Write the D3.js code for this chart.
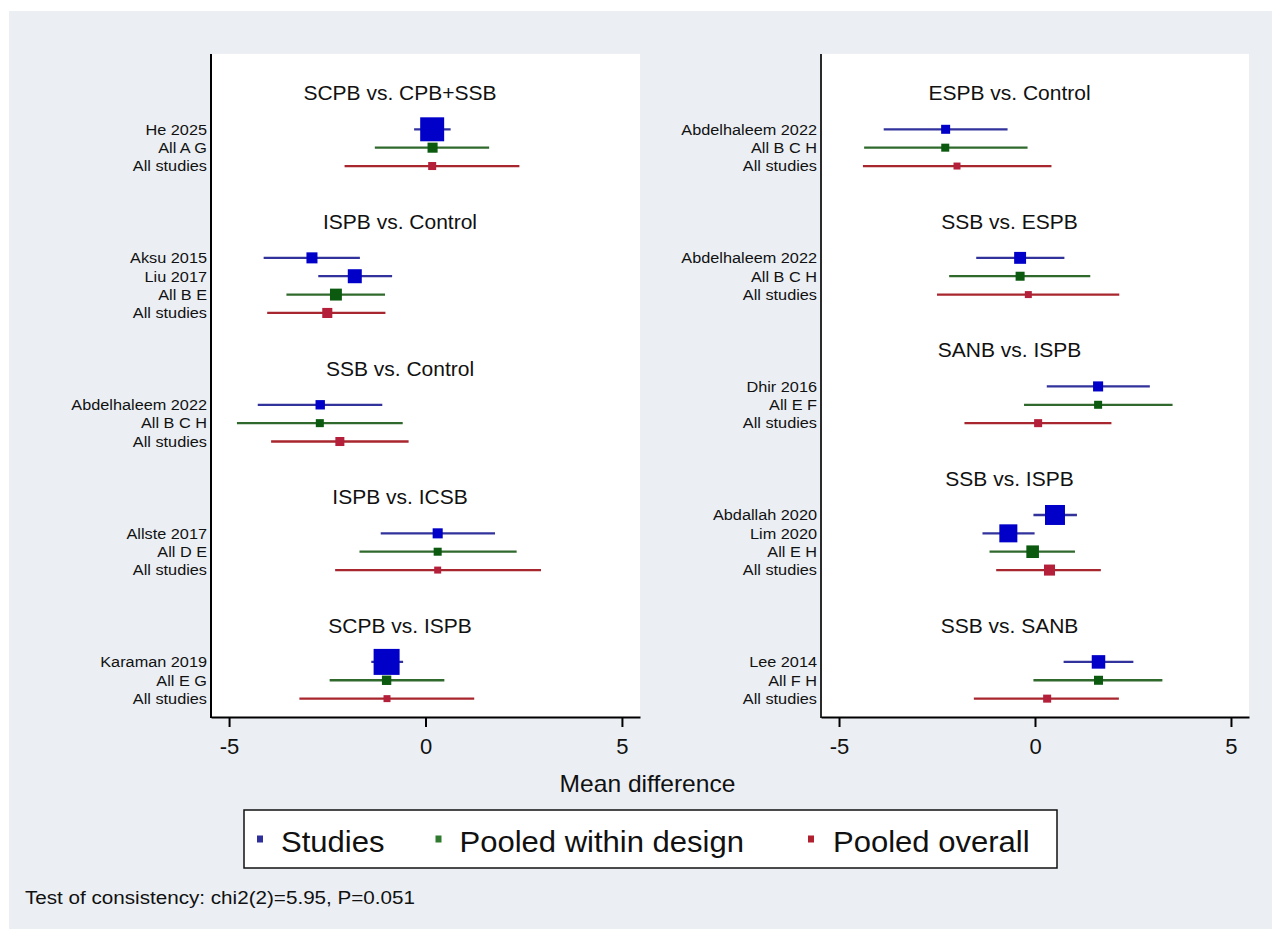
<!DOCTYPE html>
<html>
<head>
<meta charset="utf-8">
<script src="https://cdn.jsdelivr.net/npm/d3@7/dist/d3.min.js"></script>
<style>
  html, body { margin: 0; padding: 0; background: #ffffff; }
  svg { display: block; }
  text { font-family: "Liberation Sans", Arial, Helvetica, sans-serif; fill: #111; }
</style>
</head>
<body>
<svg id="chart" width="1281" height="939"></svg>
<script>
// ---------------- DATA ----------------
const comparisons = [
  "SCPB vs. CPB+SSB", "ISPB vs. Control", "SSB vs. Control", "ISPB vs. ICSB", "SCPB vs. ISPB",
  "ESPB vs. Control", "SSB vs. ESPB", "SANB vs. ISPB", "SSB vs. ISPB", "SSB vs. SANB"
];
const comparisonPanel = [0, 0, 0, 0, 0, 1, 1, 1, 1, 1];

const rowLabels = [
  "He 2025", "All A G", "All studies",
  "Aksu 2015", "Liu 2017", "All B E", "All studies",
  "Abdelhaleem 2022", "All B C H", "All studies",
  "Allste 2017", "All D E", "All studies",
  "Karaman 2019", "All E G", "All studies",
  "Abdelhaleem 2022", "All B C H", "All studies",
  "Abdelhaleem 2022", "All B C H", "All studies",
  "Dhir 2016", "All E F", "All studies",
  "Abdallah 2020", "Lim 2020", "All E H", "All studies",
  "Lee 2014", "All F H", "All studies"
];
const rowComparison = [
  0, 0, 0,
  1, 1, 1, 1,
  2, 2, 2,
  3, 3, 3,
  4, 4, 4,
  5, 5, 5,
  6, 6, 6,
  7, 7, 7,
  8, 8, 8, 8,
  9, 9, 9
];
// 0 = study, 1 = pooled within design, 2 = pooled overall
const rowType = [
  0, 1, 2,
  0, 0, 1, 2,
  0, 1, 2,
  0, 1, 2,
  0, 1, 2,
  0, 1, 2,
  0, 1, 2,
  0, 1, 2,
  0, 0, 1, 2,
  0, 1, 2
];
const estimate = [
  0.17, 0.18, 0.17,
  -2.89, -1.80, -2.28, -2.50,
  -2.68, -2.69, -2.18,
  0.31, 0.31, 0.31,
  -0.99, -0.99, -0.98,
  -2.28, -2.29, -1.99,
  -0.38, -0.38, -0.17,
  1.61, 1.61, 0.08,
  0.51, -0.68, -0.06, 0.37,
  1.62, 1.62, 0.31
];
const lower = [
  -0.29, -1.29, -2.06,
  -4.12, -2.73, -3.54, -4.03,
  -4.27, -4.80, -3.93,
  -1.14, -1.68, -2.30,
  -1.38, -2.44, -3.21,
  -3.86, -4.36, -4.39,
  -1.50, -2.19, -2.50,
  0.30, -0.28, -1.80,
  -0.04, -1.34, -1.16, -0.99,
  0.73, -0.04, -1.56
];
const upper = [
  0.64, 1.62, 2.39,
  -1.67, -0.85, -1.03, -1.02,
  -1.10, -0.58, -0.43,
  1.77, 2.32, 2.94,
  -0.57, 0.48, 1.24,
  -0.70, -0.19, 0.42,
  0.75, 1.41, 2.15,
  2.93, 3.51, 1.95,
  1.07, -0.01, 1.02, 1.68,
  2.51, 3.25, 2.14
];
// relative marker weights (%)
const weight = [
  85, 15, 9.5,
  18, 29, 21, 15,
  13, 9.5, 12,
  15, 9.5, 7.2,
  100, 13, 7.2,
  12, 9.5, 7.2,
  21, 12, 7.2,
  15, 9.5, 9.5,
  59, 48, 23.5, 18,
  27, 12, 9.5
];
const seriesNames = ["Studies", "Pooled within design", "Pooled overall"];
const xTickValues = [-5, 0, 5];
const xTitle = "Mean difference";
const footnote = "Test of consistency: chi2(2)=5.95, P=0.051";

// ---------------- STYLE ----------------
const markerFill = ["#0000c8", "#0b5a10", "#b41f3a"];
const lineColor  = ["#32329c", "#2f6a2c", "#a8262e"];
const legendMark = ["#2e2e9c", "#2f7a2f", "#b0202e"];

const svg = d3.select("#chart");

// background
svg.append("rect").attr("x", 9).attr("y", 11).attr("width", 1263).attr("height", 918)
  .attr("fill", "#ebeff4");

const panelX = [[211, 640], [821, 1249]];
const plotTop = 54, plotBottom = 717;

// compute row slots (layout) per panel: 4 blank rows between comparison groups
const rowSlot = new Array(rowLabels.length);
const titleSlot = new Array(comparisons.length);
[0, 1].forEach(p => {
  let slot = 0, first = true;
  comparisons.forEach((c, ci) => {
    if (comparisonPanel[ci] !== p) return;
    if (!first) slot += 4;
    first = false;
    titleSlot[ci] = slot;
    rowLabels.forEach((l, ri) => {
      if (rowComparison[ri] === ci) { rowSlot[ri] = slot; slot += 1; }
    });
  });
});

const y = d3.scaleLinear().domain([-4.1, 32]).range([plotTop, plotBottom]);
const size = d3.scaleSqrt().domain([0, 100]).range([0, 26]);

function txt(g, x, yy, s, opts) {
  const sx = opts.sx || 1;
  return g.append("text")
    .attr("transform", `translate(${x},${yy}) scale(${sx},1)`)
    .attr("text-anchor", opts.anchor || "start")
    .attr("font-size", opts.size)
    .attr("dy", opts.dy || 0)
    .text(s);
}

[0, 1].forEach(p => {
  const x = d3.scaleLinear().domain([-5.46, 5.46]).range(panelX[p]);
  const g = svg.append("g");

  // white plot area
  g.append("rect").attr("x", panelX[p][0]).attr("y", plotTop)
    .attr("width", panelX[p][1] - panelX[p][0]).attr("height", plotBottom - plotTop)
    .attr("fill", "#ffffff");

  // titles
  comparisons.forEach((c, ci) => {
    if (comparisonPanel[ci] !== p) return;
    txt(g, (panelX[p][0] + panelX[p][1]) / 2 - 25.5, y(titleSlot[ci] - 1.98), c,
      { anchor: "middle", size: 21, dy: "0.35em" });
  });

  const rows = d3.range(rowLabels.length).filter(i => comparisonPanel[rowComparison[i]] === p);

  // row labels
  rows.forEach(i => {
    txt(g, panelX[p][0] - 4, y(rowSlot[i]), rowLabels[i],
      { anchor: "end", size: 14.8, dy: "0.36em", sx: 1.1 });
  });

  // CI lines
  g.selectAll("line.ci").data(rows).enter().append("line")
    .attr("x1", i => x(lower[i])).attr("x2", i => x(upper[i]))
    .attr("y1", i => y(rowSlot[i])).attr("y2", i => y(rowSlot[i]))
    .attr("stroke", i => lineColor[rowType[i]]).attr("stroke-width", 2.3);

  // markers
  g.selectAll("rect.mk").data(rows).enter().append("rect")
    .attr("x", i => x(estimate[i]) - size(weight[i]) / 2)
    .attr("y", i => y(rowSlot[i]) - size(weight[i]) / 2)
    .attr("width", i => size(weight[i])).attr("height", i => size(weight[i]))
    .attr("fill", i => markerFill[rowType[i]]);

  // y axis line
  g.append("line").attr("x1", panelX[p][0]).attr("x2", panelX[p][0])
    .attr("y1", plotTop).attr("y2", plotBottom + 1)
    .attr("stroke", p === 0 ? "#000" : "#2a2a2a").attr("stroke-width", 2);

  // x axis
  const ax = g.append("g").attr("transform", `translate(0,${plotBottom})`)
    .call(d3.axisBottom(x).tickValues(xTickValues).tickSize(10).tickSizeOuter(0)
      .tickPadding(11).tickFormat(d3.format("d")));
  ax.select(".domain").attr("stroke", "#000").attr("stroke-width", 2);
  ax.selectAll(".tick line").attr("stroke", "#000").attr("stroke-width", 2);
  ax.selectAll(".tick text").attr("font-size", 22).attr("fill", "#111")
    .attr("font-family", "'Liberation Sans', Arial, sans-serif")
    .text(d => d < 0 ? "-" + Math.abs(d) : d);
});

// x title
txt(svg, 647.5, 792, xTitle, { anchor: "middle", size: 23, sx: 1.07 });

// legend
const lg = svg.append("g");
lg.append("rect").attr("x", 244).attr("y", 810).attr("width", 813).attr("height", 58)
  .attr("fill", "#fff").attr("stroke", "#111").attr("stroke-width", 1.5);
const legMarkX = [260, 438.5, 811];
const legTextX = [281, 459.5, 833];
seriesNames.forEach((s, k) => {
  lg.append("rect").attr("x", legMarkX[k] - 3).attr("y", 835.5).attr("width", 6).attr("height", 7)
    .attr("fill", legendMark[k]);
  txt(lg, legTextX[k], 852, s, { size: 29, sx: 1.07 });
});

// footnote
svg.append("text").attr("x", 25).attr("y", 904).attr("font-size", 18)
  .attr("font-family", "'Liberation Sans Narrow', 'Arial Narrow', 'Liberation Sans', sans-serif")
  .attr("textLength", 390).attr("lengthAdjust", "spacingAndGlyphs")
  .text(footnote);
</script>
</body>
</html>
